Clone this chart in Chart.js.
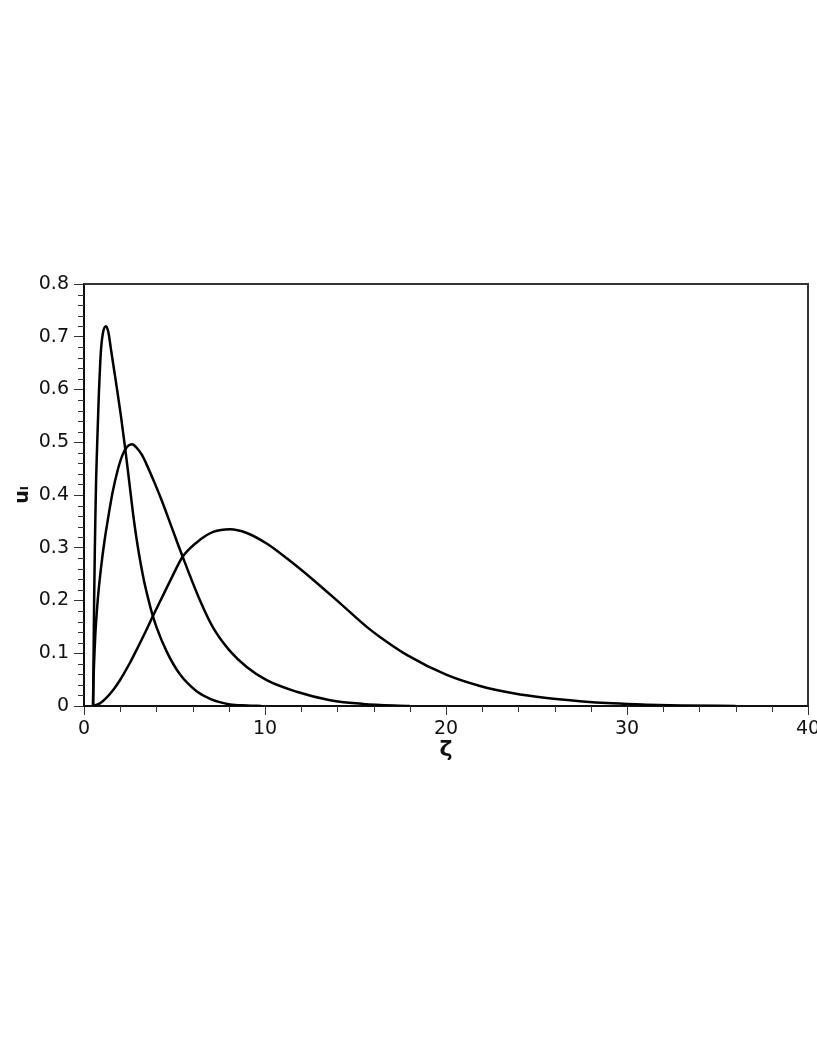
<!DOCTYPE html>
<html>
<head>
<meta charset="utf-8">
<script src="https://cdn.jsdelivr.net/npm/chart.js@4.4.1/dist/chart.umd.min.js"></script>
<style>
  html, body { margin: 0; padding: 0; background: #fff; }
  #wrap { width: 817px; height: 1058px; position: relative; }
</style>
</head>
<body>
<div id="wrap"><canvas id="plot"></canvas></div>
<script>
// values
const zeta1 = [0.5, 0.53, 0.56, 0.6, 0.63, 0.67, 0.72, 0.81, 0.94, 1.05, 1.22, 1.35, 1.49, 1.77, 2.04, 2.28, 2.5, 2.72, 2.9, 3.06, 3.3, 3.55, 3.74, 4.0, 4.57, 5.3, 6.22, 7.0, 8.07, 9.0, 9.8];
const u1    = [0, 0.1, 0.2, 0.3, 0.36, 0.43, 0.487, 0.581, 0.676, 0.708, 0.72, 0.708, 0.676, 0.613, 0.55, 0.487, 0.425, 0.362, 0.318, 0.284, 0.24, 0.203, 0.178, 0.15, 0.103, 0.06, 0.028, 0.013, 0.003, 0.001, 0];

const zeta2 = [0.5, 0.52, 0.55, 0.63, 0.76, 0.94, 1.12, 1.35, 1.58, 1.86, 2.14, 2.4, 2.65, 2.9, 3.2, 3.43, 3.9, 4.29, 4.8, 5.45, 6.41, 7.14, 8.07, 8.99, 10.09, 11.75, 13.6, 15.4, 18];
const u2    = [0, 0.04, 0.075, 0.138, 0.201, 0.262, 0.31, 0.36, 0.405, 0.447, 0.477, 0.492, 0.496, 0.49, 0.476, 0.46, 0.423, 0.39, 0.343, 0.283, 0.2, 0.148, 0.104, 0.074, 0.049, 0.027, 0.011, 0.004, 0];

const zeta3 = [0.48, 0.66, 0.88, 1.22, 1.6, 1.95, 2.54, 2.87, 3.46, 3.8, 4.2, 4.8, 5.45, 6.41, 7.14, 8.07, 8.99, 10.09, 11.2, 12.67, 14.14, 15.62, 16.35, 17.83, 20.04, 21.88, 23.72, 25.56, 27.4, 29.2, 31.1, 33, 36];
const u3    = [0, 0.002, 0.005, 0.015, 0.03, 0.047, 0.082, 0.104, 0.145, 0.17, 0.198, 0.24, 0.283, 0.315, 0.33, 0.335, 0.328, 0.308, 0.28, 0.239, 0.195, 0.15, 0.131, 0.097, 0.059, 0.038, 0.024, 0.015, 0.009, 0.005, 0.0025, 0.001, 0];

const xMin = 0, xMax = 40, xMajor = 10, xMinor = 2;
const yMin = 0, yMax = 0.8, yMajor = 0.1, yMinor = 0.02;
const xTitle = 'ζ';
const yTitle = 'uₗ';

const toPoints = (xs, ys) => xs.map((x, i) => ({ x: x, y: ys[i] }));

const lineStyle = {
    borderColor: '#000',
    borderWidth: 2.5,
    pointRadius: 0,
    fill: false,
    cubicInterpolationMode: 'monotone'
};

// minor ticks + the top/right frame of the plot box
const framePlugin = {
    id: 'frame',
    afterDraw(chart) {
        const { ctx, chartArea: a, scales: { x, y } } = chart;
        ctx.save();
        ctx.strokeStyle = '#333';
        ctx.lineWidth = 1;
        ctx.beginPath();
        for (let v = yMin; v <= yMax + 1e-9; v += yMinor) {
            if (Math.abs(v / yMajor - Math.round(v / yMajor)) < 1e-6) continue;
            const py = Math.round(y.getPixelForValue(v)) + 0.5;
            ctx.moveTo(a.left - 6, py);
            ctx.lineTo(a.left, py);
        }
        for (let v = xMin; v <= xMax + 1e-9; v += xMinor) {
            if (Math.abs(v / xMajor - Math.round(v / xMajor)) < 1e-6) continue;
            const px = Math.round(x.getPixelForValue(v)) + 0.5;
            ctx.moveTo(px, a.bottom);
            ctx.lineTo(px, a.bottom + 6);
        }
        ctx.stroke();

        ctx.strokeStyle = '#333';
        ctx.lineWidth = 2;
        ctx.beginPath();
        ctx.moveTo(a.left, a.top);
        ctx.lineTo(a.right, a.top);
        ctx.lineTo(a.right, a.bottom);
        ctx.stroke();
        ctx.restore();
    }
};

const ctx = document.getElementById('plot').getContext('2d');

new Chart(ctx, {
    type: 'line',
    data: {
        datasets: [
            { data: toPoints(zeta1, u1), ...lineStyle },
            { data: toPoints(zeta2, u2), ...lineStyle },
            { data: toPoints(zeta3, u3), ...lineStyle }
        ]
    },
    options: {
        responsive: true,
        maintainAspectRatio: false,
        animation: false,
        layout: { padding: { top: 284, right: 9, bottom: 292, left: 0 } },
        plugins: {
            legend: { display: false },
            tooltip: { enabled: false }
        },
        scales: {
            x: {
                type: 'linear',
                min: xMin,
                max: xMax,
                afterFit: (s) => { s.height = 60; s.paddingLeft = 0; s.paddingRight = 0; },
                border: { display: true, color: '#111', width: 2 },
                grid: { drawOnChartArea: false, drawTicks: true, tickLength: 9, color: '#333', lineWidth: 1 },
                ticks: {
                    stepSize: xMajor,
                    padding: 3,
                    color: '#111',
                    maxRotation: 0,
                    font: { family: 'DejaVu Sans', size: 19 }
                },
                title: {
                    display: true,
                    text: xTitle,
                    color: '#111',
                    padding: { top: 0, bottom: 3 },
                    font: { family: 'DejaVu Sans', size: 22, weight: 'bold' }
                }
            },
            y: {
                min: yMin,
                max: yMax,
                afterFit: (s) => { s.width = 84; },
                border: { display: true, color: '#111', width: 2 },
                grid: { drawOnChartArea: false, drawTicks: true, tickLength: 10, color: '#333', lineWidth: 1 },
                ticks: {
                    stepSize: yMajor,
                    padding: 5,
                    color: '#111',
                    font: { family: 'DejaVu Sans', size: 19 }
                },
                title: {
                    display: true,
                    text: yTitle,
                    color: '#111',
                    padding: { top: 12, bottom: 0 },
                    font: { family: 'DejaVu Sans', size: 19, weight: 'bold' }
                }
            }
        }
    },
    plugins: [framePlugin]
});
</script>
</body>
</html>
